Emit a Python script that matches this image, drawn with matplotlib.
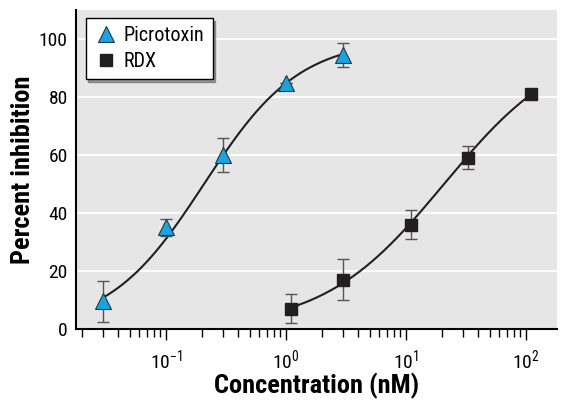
import numpy as np
import matplotlib
matplotlib.use('Agg')
import matplotlib.pyplot as plt
from matplotlib.ticker import LogLocator, NullFormatter

plt.rcParams['font.family'] = ['Roboto Condensed', 'DejaVu Sans']

# Picrotoxin
picro_conc = [0.03, 0.1, 0.3, 1.0, 3.0]
picro_inh = [9.5, 35, 60, 85, 94.5]
picro_err = [7, 3, 6, 0, 4]

# RDX
rdx_conc = [1.1, 3.0, 11.0, 33.0, 110.0]
rdx_inh = [7, 17, 36, 59, 81]
rdx_err = [5, 7, 5, 4, 0]


def hill_fit(conc, inh):
    # logit(inhibition) vs log10(conc), bottom 0 / top 100
    lx = np.log10(conc)
    p = np.array(inh) / 100.0
    slope, icpt = np.polyfit(lx, np.log(p / (1 - p)), 1)
    xx = np.linspace(lx.min(), lx.max(), 200)
    yy = 100.0 / (1 + np.exp(-(slope * xx + icpt)))
    return 10 ** xx, yy


fig = plt.figure(figsize=(5.67, 4.03), dpi=100)
ax = fig.add_axes([0.134, 0.184, 0.848, 0.791])
ax.set_facecolor('#e6e6e6')

ax.set_xscale('log')
ax.set_xlim(10 ** -1.75, 10 ** 2.26)
ax.set_ylim(0, 110)

for yv in [20, 40, 60, 80, 100]:
    ax.axhline(yv, color='white', lw=1.3, zorder=1)

x1, y1 = hill_fit(picro_conc, picro_inh)
x2, y2 = hill_fit(rdx_conc, rdx_inh)
ax.plot(x1, y1, color='#231f20', lw=1.5, zorder=2)
ax.plot(x2, y2, color='#231f20', lw=1.5, zorder=2)

ax.errorbar(picro_conc, picro_inh, yerr=picro_err, fmt='none', ecolor='#555555',
            elinewidth=1, capsize=4, capthick=1, zorder=3)
ax.errorbar(rdx_conc, rdx_inh, yerr=rdx_err, fmt='none', ecolor='#555555',
            elinewidth=1, capsize=4, capthick=1, zorder=3)

ax.plot(picro_conc, picro_inh, linestyle='none', marker='^', ms=11,
        mfc='#1ba3dd', mec='#1a3a4a', mew=0.8, zorder=4, label='Picrotoxin')
ax.plot(rdx_conc, rdx_inh, linestyle='none', marker='s', ms=9,
        mfc='#231f20', mec='#231f20', zorder=4, label='RDX')

ax.spines['top'].set_visible(False)
ax.spines['right'].set_visible(False)
ax.spines['left'].set_linewidth(1.5)
ax.spines['bottom'].set_linewidth(1.5)

ax.set_yticks([0, 20, 40, 60, 80, 100])
ax.tick_params(axis='y', length=0, labelsize=14, pad=6)
ax.xaxis.set_major_locator(LogLocator(base=10, numticks=10))
ax.xaxis.set_minor_locator(LogLocator(base=10, subs=np.arange(2, 10), numticks=20))
ax.xaxis.set_minor_formatter(NullFormatter())
ax.tick_params(axis='x', which='major', length=8, width=1, labelsize=14, pad=6)
ax.tick_params(axis='x', which='minor', length=6, width=1)

ax.set_xlabel('Concentration (nM)', fontsize=19, fontweight='bold', labelpad=0)
ax.set_ylabel('Percent inhibition', fontsize=19, fontweight='bold', labelpad=3)

leg = ax.legend(loc='upper left', frameon=True, fancybox=False, shadow=True,
                edgecolor='black', fontsize=14.5, borderpad=0.4, handletextpad=0.3,
                labelspacing=0.35, handlelength=1.2, borderaxespad=0,
                bbox_to_anchor=(0.02, 0.975))
leg.get_frame().set_linewidth(1)
leg.get_frame().set_facecolor('white')
leg.get_frame().set_alpha(1)

fig.savefig('out.png', dpi=100)
